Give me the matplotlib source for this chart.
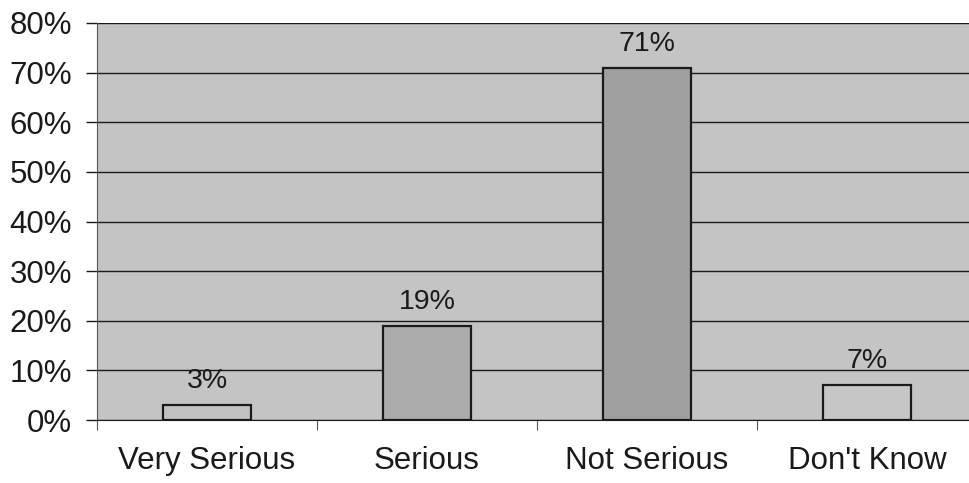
import matplotlib.pyplot as plt
from matplotlib.ticker import PercentFormatter

categories = ["Very Serious", "Serious", "Not Serious", "Don't Know"]
values = [3, 19, 71, 7]
value_labels = ["3%", "19%", "71%", "7%"]
bar_colors = ["#c2c2c2", "#acacac", "#a0a0a0", "#c6c6c6"]

plt.rcParams['font.family'] = ['Liberation Sans', 'DejaVu Sans']

fig = plt.figure(figsize=(9.7, 4.83), dpi=100)
# plot area runs past the right edge of the figure
ax = fig.add_axes([97 / 970, 63 / 483, 880 / 970, 397 / 483])
ax.set_facecolor("#c4c4c4")

x = range(len(categories))
bars = ax.bar(x, values, width=0.4, color=bar_colors, edgecolor="#1a1a1a",
              linewidth=1.6, zorder=3)

for bar, lab in zip(bars, value_labels):
    ax.annotate(lab, (bar.get_x() + bar.get_width() / 2, bar.get_height()),
                xytext=(0, 8), textcoords="offset points",
                ha="center", va="bottom", fontsize=20.5, color="#1a1a1a")

ax.set_xlim(-0.5, 3.5)
ax.set_ylim(0, 80)
ax.set_yticks(range(0, 81, 10))
ax.yaxis.set_major_formatter(PercentFormatter(decimals=0))
ax.grid(axis="y", color="#1a1a1a", linewidth=1.0, zorder=1)
ax.set_axisbelow(True)

ax.set_xticks([-0.5, 0.5, 1.5, 2.5, 3.5])
ax.set_xticklabels([])
ax.set_xticks(list(x), minor=True)
ax.set_xticklabels(categories, minor=True, fontsize=22.5, color="#1a1a1a")
ax.tick_params(axis="x", which="minor", length=0, pad=19)
ax.tick_params(axis="x", which="major", length=7, direction="out", color="#555555")
ax.tick_params(axis="y", length=8, width=1.0, pad=10, labelsize=22.5,
               labelcolor="#1a1a1a", color="#1a1a1a")

for side in ["top", "right"]:
    ax.spines[side].set_visible(False)
ax.spines["left"].set_color("#555555")
ax.spines["bottom"].set_color("#1a1a1a")

fig.savefig("out.png", dpi=100, facecolor="white")
